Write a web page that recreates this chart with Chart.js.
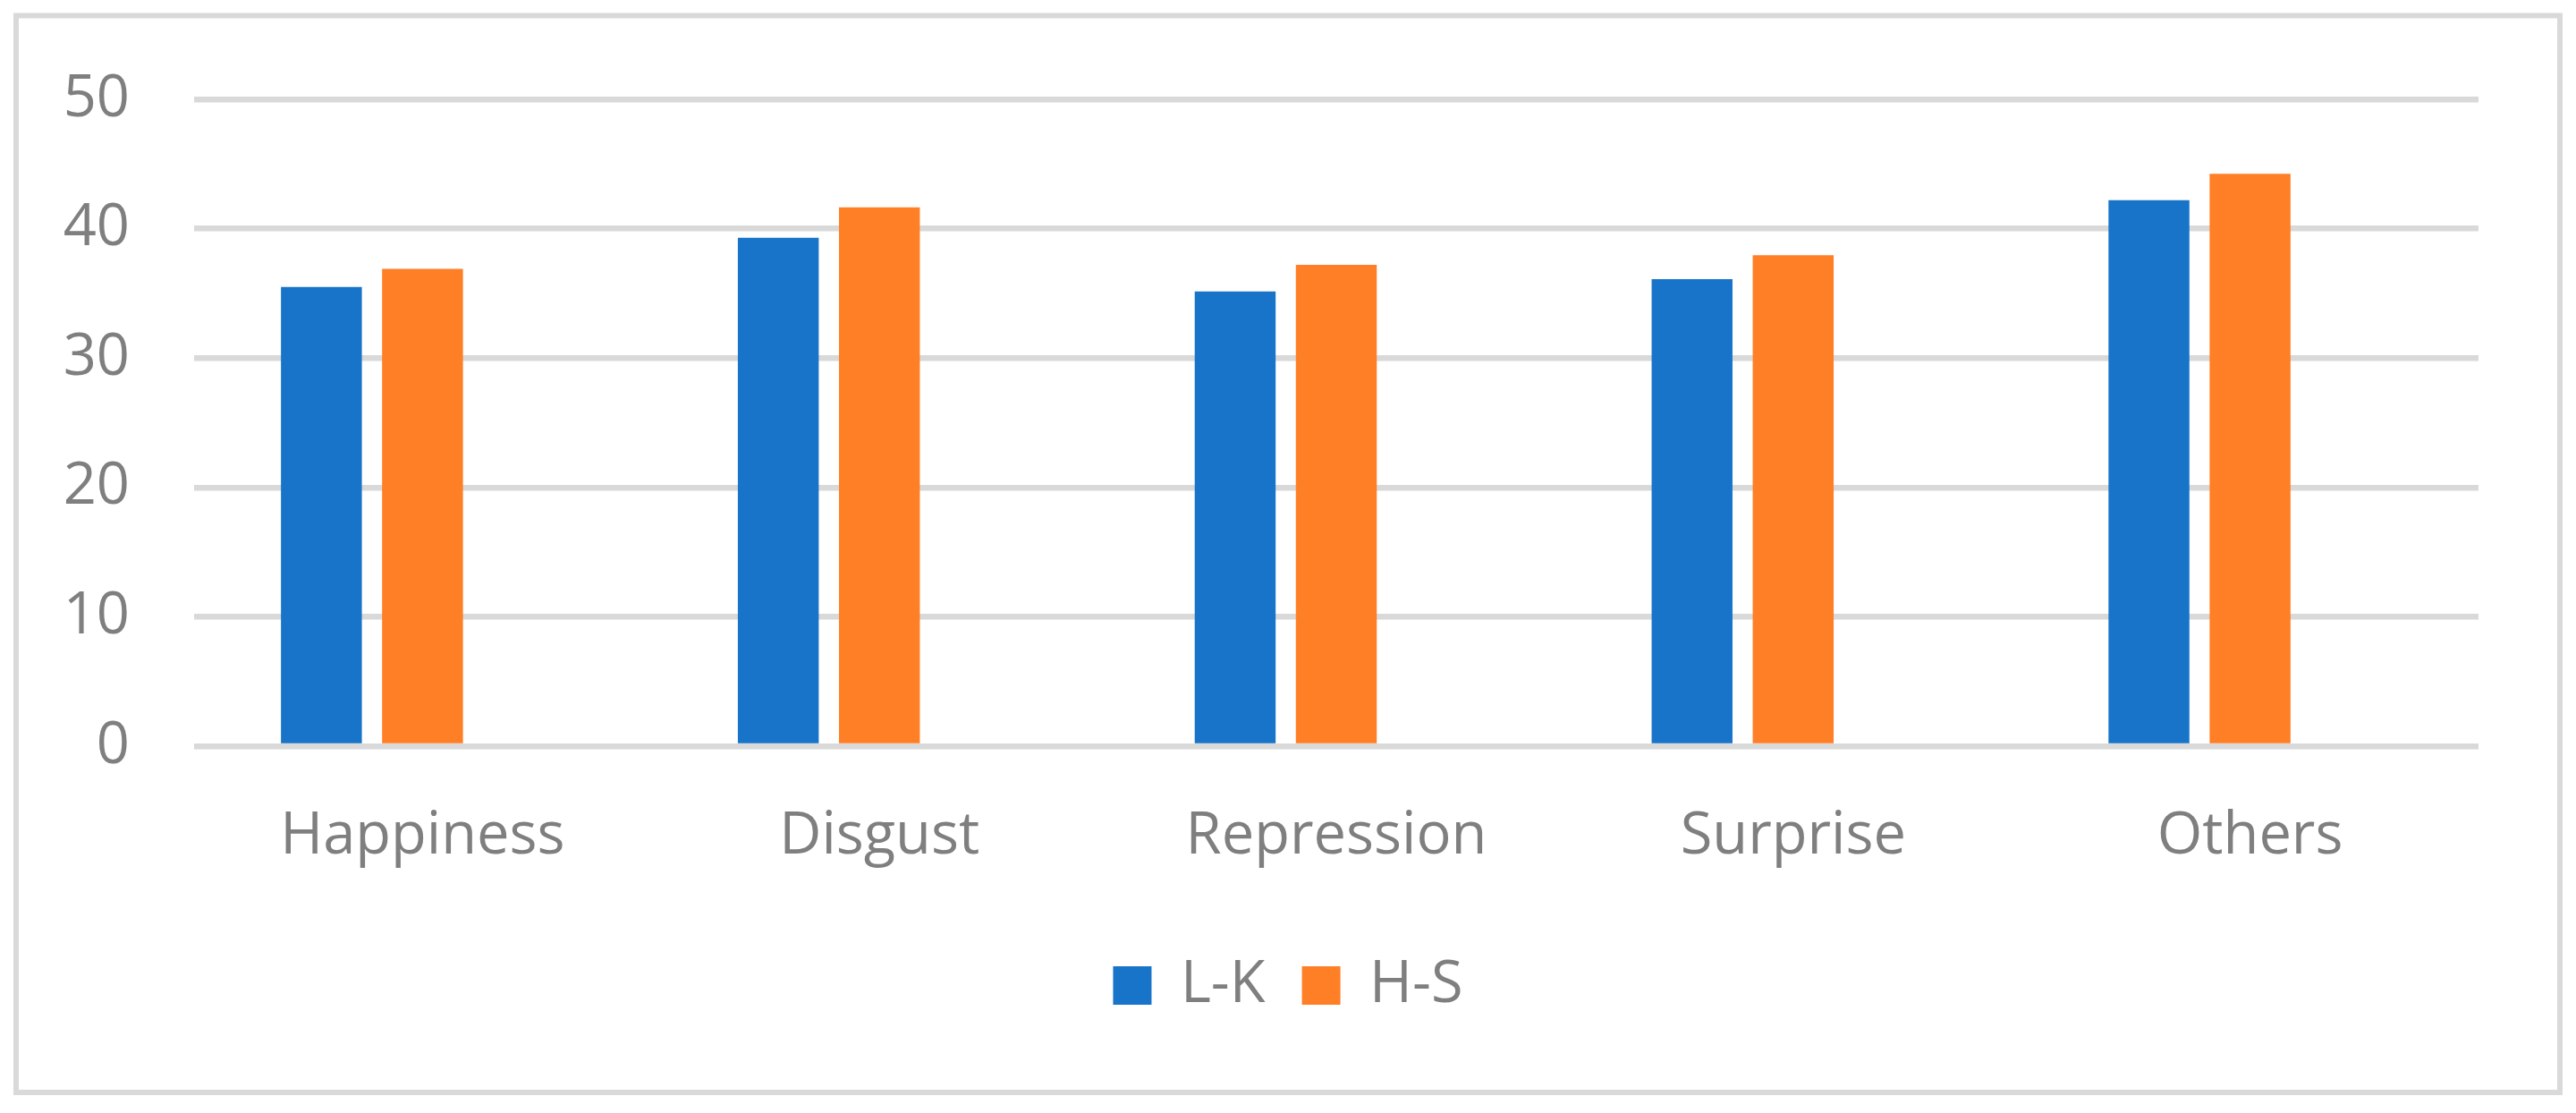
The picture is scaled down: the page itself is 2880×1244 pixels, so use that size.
<!DOCTYPE html>
<html>
<head>
<meta charset="utf-8">
<script src="https://cdn.jsdelivr.net/npm/chart.js@4/dist/chart.umd.min.js"></script>
<style>
  html, body { margin: 0; padding: 0; background: #fff; }
  #wrap { width: 2880px; height: 1244px; position: relative; }
</style>
</head>
<body>
<div id="wrap"><canvas id="chart"></canvas></div>
<script>
// chart data
const categories = ['Happiness', 'Disgust', 'Repression', 'Surprise', 'Others'];
const seriesNames = ['L-K', 'H-S'];
const lkValues = [35.5, 39.3, 35.15, 36.1, 42.2];
const hsValues = [36.9, 41.65, 37.2, 37.95, 44.25];
const yTicks = [0, 10, 20, 30, 40, 50];

const textGray = '#7f7f7f';
const gridGray = '#d9d9d9';
const font = { family: '"Open Sans", "Noto Sans", sans-serif', size: 65 };

// white page with a thin gray frame round the chart
const framePlugin = {
  id: 'frame',
  beforeDraw(chart) {
    const ctx = chart.ctx;
    ctx.save();
    ctx.fillStyle = '#fff';
    ctx.fillRect(0, 0, chart.width, chart.height);
    ctx.strokeStyle = gridGray;
    ctx.lineWidth = 6;
    ctx.strokeRect(18, 17.5, 2844, 1203.5);
    ctx.restore();
  }
};

new Chart(document.getElementById('chart'), {
  type: 'bar',
  data: {
    labels: categories,
    datasets: [
      { label: seriesNames[0], data: lkValues, backgroundColor: '#1874C9' },
      { label: seriesNames[1], data: hsValues, backgroundColor: '#FF7F27' },
      // empty third series, keeps the Excel-style slot on the right of each group
      { label: '', data: categories.map(() => null), backgroundColor: 'rgba(0,0,0,0)' }
    ]
  },
  options: {
    responsive: true,
    maintainAspectRatio: false,
    animation: false,
    devicePixelRatio: 1,
    layout: { padding: { top: 107, right: 0, bottom: 100, left: 0 } },
    datasets: { bar: { barPercentage: 0.8, categoryPercentage: 0.664 } },
    plugins: {
      legend: {
        position: 'bottom',
        labels: {
          color: textGray,
          font: font,
          boxWidth: 43,
          boxHeight: 43,
          padding: 41,
          filter: (item) => item.datasetIndex < 2
        }
      },
      tooltip: { enabled: false }
    },
    scales: {
      x: {
        grid: { display: false },
        border: { display: false },
        ticks: { color: textGray, font: font, padding: 54 }
      },
      y: {
        min: 0,
        max: 50,
        afterBuildTicks: (scale) => { scale.ticks = yTicks.map(v => ({ value: v })); },
        afterFit: (scale) => { scale.width = 217; },
        grid: { color: gridGray, lineWidth: 6.5, drawTicks: false },
        border: { display: false },
        ticks: { color: textGray, font: font, padding: 72 }
      },
      // blank right margin, so the legend stays centred on the whole page
      yRight: {
        position: 'right',
        afterFit: (scale) => { scale.width = 109; },
        grid: { display: false },
        border: { display: false },
        ticks: { display: false }
      }
    }
  },
  plugins: [framePlugin]
});
</script>
</body>
</html>
